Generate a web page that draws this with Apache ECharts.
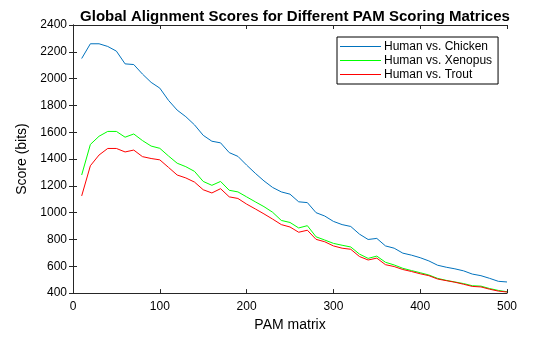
<!DOCTYPE html>
<html><head><meta charset="utf-8">
<script src="https://cdn.jsdelivr.net/npm/echarts@6/dist/echarts.min.js"></script>
<style>html,body{margin:0;padding:0;background:#fff}#c{width:560px;height:337px}</style>
</head><body><div id="c"></div>
<script>
const pam = [10,20,30,40,50,60,70,80,90,100,110,120,130,140,150,160,170,180,190,200,210,220,230,240,250,260,270,280,290,300,310,320,330,340,350,360,370,380,390,400,410,420,430,440,450,460,470,480,490,500];
const chicken = [2150,2260,2260,2240,2205,2110,2105,2034,1972,1929,1838,1765,1716,1655,1577,1533,1521,1448,1420,1355,1294,1237,1188,1155,1138,1081,1075,1000,975,935,911,897,840,800,808,752,735,698,683,664,640,608,593,581,566,542,530,510,488,483];
const xenopus = [1281,1509,1570,1606,1606,1563,1587,1538,1497,1480,1423,1369,1343,1308,1233,1204,1233,1167,1155,1118,1081,1045,1003,942,927,886,903,820,796,771,757,744,691,659,676,630,610,585,568,552,535,510,495,483,471,455,452,434,420,410];
const trout = [1125,1350,1430,1479,1479,1453,1467,1418,1404,1394,1338,1281,1259,1228,1171,1147,1179,1118,1106,1064,1028,991,952,911,893,854,869,801,783,752,735,727,673,647,661,612,598,576,561,544,530,505,493,481,466,450,446,429,415,408];
const names = ['Human vs. Chicken','Human vs. Xenopus','Human vs. Trout'];
const colors = ['#0072BD','#00FF00','#FF0000'];
const xTicks = [0,100,200,300,400,500];
const yTicks = [400,600,800,1000,1200,1400,1600,1800,2000,2200,2400];

const font = 'Liberation Sans, Arial, Helvetica, sans-serif';
const chart = echarts.init(document.getElementById('c'));
const pair = arr => pam.map((x,i)=>[x,arr[i]]);
const axLine = {show:true, lineStyle:{color:'#262626', width:1}};
const tick = {show:true, inside:true, length:4, lineStyle:{color:'#262626'}};
chart.setOption({
  animation:false,
  title:{text:'Global Alignment Scores for Different PAM Scoring Matrices', left:290, textAlign:'center', top:4,
    textStyle:{fontFamily:font, fontSize:15, fontWeight:'bold', color:'#000'}},
  grid:{left:73, top:25, right:53, bottom:39, containLabel:false},
  legend:{orient:'vertical', left:337, top:37, data:names, icon:'rect', itemWidth:41, itemHeight:1.2,
    itemGap:1, padding:[3,6,3,3], borderColor:'#000', borderWidth:1, backgroundColor:'#fff',
    textStyle:{fontFamily:font, fontSize:12, color:'#000', padding:[0,0,0,-2], lineHeight:13}},
  xAxis:[
    {type:'value', min:xTicks[0], max:xTicks[xTicks.length-1], interval:100, name:'PAM matrix', nameLocation:'middle', nameGap:20,
     nameTextStyle:{fontFamily:font, fontSize:14, color:'#000'},
     axisLine:axLine, axisTick:tick, splitLine:{show:false},
     axisLabel:{fontFamily:font, fontSize:12, color:'#000', margin:8, formatter:v=>String(v)}},
    {type:'value', position:'top', min:0, max:500, interval:100, axisLine:axLine, axisTick:tick, axisLabel:{show:false}, splitLine:{show:false}}
  ],
  yAxis:[
    {type:'value', min:yTicks[0], max:yTicks[yTicks.length-1], interval:200, name:'Score (bits)', nameLocation:'middle', nameGap:36,
     nameTextStyle:{fontFamily:font, fontSize:14, color:'#000'},
     axisLine:axLine, axisTick:tick, splitLine:{show:false},
     axisLabel:{fontFamily:font, fontSize:12, color:'#000', margin:6, formatter:v=>String(v)}},
    {type:'value', position:'right', min:400, max:2400, interval:200, axisLine:axLine, axisTick:tick, axisLabel:{show:false}, splitLine:{show:false}}
  ],
  series:[chicken,xenopus,trout].map((arr,i)=>({
    name:names[i], type:'line', data:pair(arr), symbol:'none', color:colors[i],
    lineStyle:{width:1, color:colors[i]}, itemStyle:{color:colors[i]}
  }))
});
</script></body></html>
